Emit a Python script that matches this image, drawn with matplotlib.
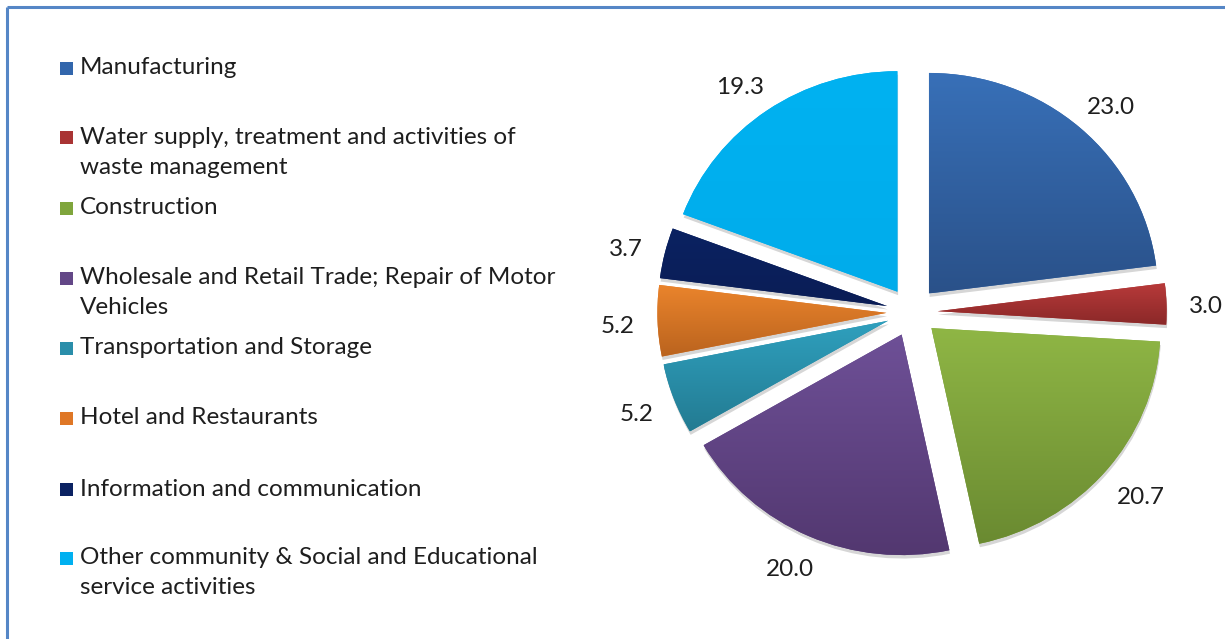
import numpy as np
import matplotlib
matplotlib.use("Agg")
import matplotlib.pyplot as plt
from matplotlib.colors import to_rgb
import matplotlib.patches as mpatches
import matplotlib.patheffects as pe

# ---------------- data ----------------
categories = [
    "Manufacturing",
    "Water supply, treatment and activities of\nwaste management",
    "Construction",
    "Wholesale and Retail Trade; Repair of Motor\nVehicles",
    "Transportation and Storage",
    "Hotel and Restaurants",
    "Information and communication",
    "Other community & Social and Educational\nservice activities",
]
values = [23.0, 3.0, 20.7, 20.0, 5.2, 5.2, 3.7, 19.3]

# gradient colours (top, bottom) per slice
top_colors = ["#3870B8", "#B83A3A", "#8FB645", "#6E5097", "#2FA0BE", "#EA842C", "#0B2262", "#00B2F1"]
bottom_colors = ["#2A5189", "#8A2828", "#6A8A31", "#52376F", "#237B92", "#BA631E", "#0A1D55", "#00ACEB"]
legend_colors = ["#3266AC", "#A93434", "#7FA53C", "#634787", "#2A8EAA", "#DF7726", "#0B2262", "#00B0F0"]

W, H = 1225, 639
fig = plt.figure(figsize=(W / 100, H / 100), dpi=100)

FONT = "Lato"
TXT = "#1E1E1E"
FS = 17.5

# ---------------- background axes (legend + frame), pixel coordinates ----------------
bg = fig.add_axes([0, 0, 1, 1])
bg.set_xlim(0, W)
bg.set_ylim(0, H)
bg.axis("off")

first_line_y = [68, 137, 208, 278, 348, 418, 489, 558]
line_gap = 30
for lab, col, yy in zip(categories, legend_colors, first_line_y):
    bg.add_patch(mpatches.Rectangle((60, H - yy - 6.5), 13, 13, facecolor=col,
                                    edgecolor="none"))
    for k, line in enumerate(lab.split("\n")):
        bg.text(80, H - (yy + k * line_gap), line, fontsize=FS, family=FONT,
                color=TXT, ha="left", va="center")

bg.plot([7, W], [H - 7, H - 7], color="#5586C6", lw=2.2, solid_capstyle="butt")
bg.plot([7, 7], [H - 7, 0], color="#5586C6", lw=2.2, solid_capstyle="butt")

# ---------------- pie axes (slightly stretched horizontally like the source) ----------------
cx_px, cy_px = 912, 312          # pie centre in image pixels (y from top)
sx, sy = 229.0, 220.5            # pixels per unit radius
L = 1.4
ax_w, ax_h = 2 * L * sx, 2 * L * sy
pax = fig.add_axes([(cx_px - ax_w / 2) / W, (H - cy_px - ax_h / 2) / H, ax_w / W, ax_h / H])

explode = [0.112] * len(values)
wedges, texts = pax.pie(
    values,
    startangle=90,
    counterclock=False,
    explode=explode,
    colors=legend_colors,
    labels=[f"{v:.1f}" for v in values],
    labeldistance=1.10,
    wedgeprops=dict(linewidth=0),
    textprops=dict(fontsize=FS, color=TXT, family=FONT),
)
pax.set_aspect("auto")
pax.set_xlim(-L, L)
pax.set_ylim(-L, L)
pax.axis("off")

# soft shadow + gradient fill clipped to each wedge
for w, c1, c2 in zip(wedges, top_colors, bottom_colors):
    w.set_path_effects([pe.SimplePatchShadow(offset=(0.5, -2.5), shadow_rgbFace="k", alpha=0.16),
                        pe.Normal()])
    verts = w.get_path().vertices
    x0, x1 = verts[:, 0].min(), verts[:, 0].max()
    y0, y1 = verts[:, 1].min(), verts[:, 1].max()
    a = np.linspace(0, 1, 256)[:, None]
    grad = (1 - a) * np.array(to_rgb(c1)) + a * np.array(to_rgb(c2))
    img = pax.imshow(grad[:, None, :], extent=(x0, x1, y0, y1), origin="upper",
                     aspect="auto", zorder=w.get_zorder() + 0.1, interpolation="bilinear")
    img.set_clip_path(w)
pax.set_xlim(-L, L)
pax.set_ylim(-L, L)

# outside-end labels: push each label box out along its slice direction
fig.canvas.draw()
renderer = fig.canvas.get_renderer()
for w, t in zip(wedges, texts):
    th = np.deg2rad(0.5 * (w.theta1 + w.theta2))
    t.set_ha("center")
    t.set_va("center")
    bb = t.get_window_extent(renderer)
    px, py = pax.transData.transform(t.get_position())
    px += 0.5 * bb.width * np.cos(th)
    py += 0.5 * bb.height * np.sin(th) - 4
    t.set_position(pax.transData.inverted().transform((px, py)))

fig.savefig("out.png", dpi=100, facecolor="white")
